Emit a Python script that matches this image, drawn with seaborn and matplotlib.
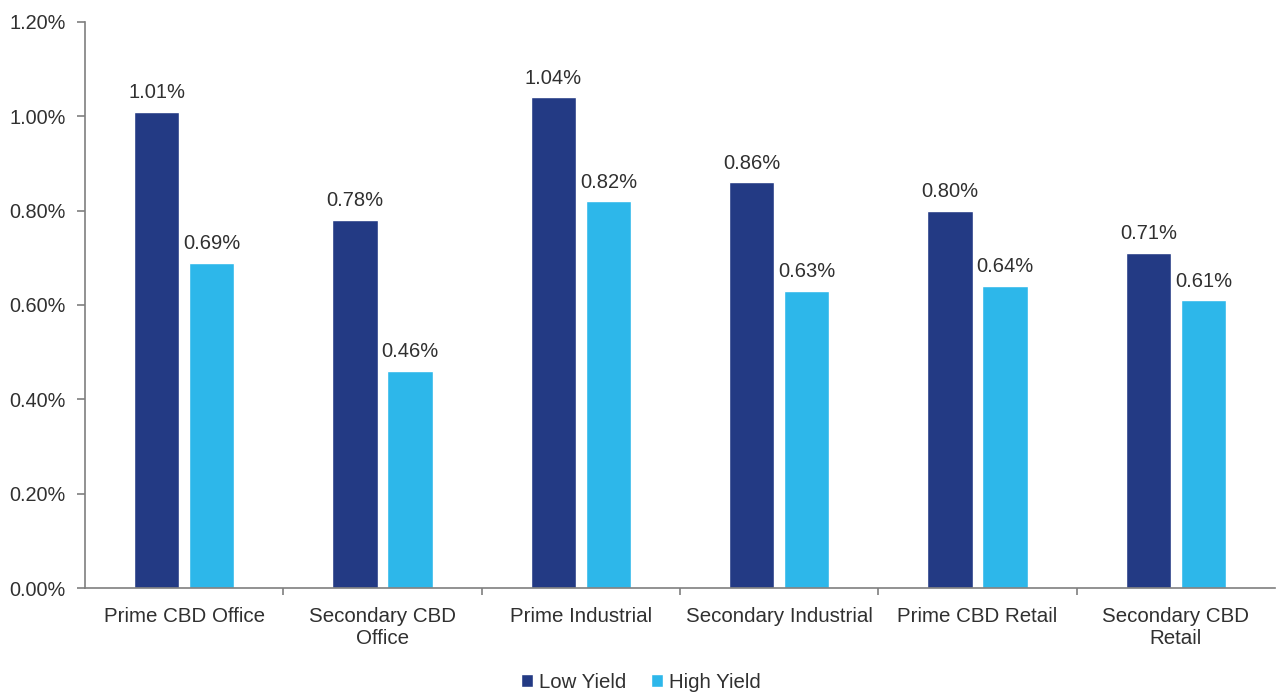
import matplotlib
matplotlib.use("Agg")
import matplotlib.pyplot as plt
import seaborn as sns
import pandas as pd
import numpy as np
from matplotlib.ticker import FuncFormatter, FixedLocator
from matplotlib.patches import Patch

categories = ["Prime CBD Office", "Secondary CBD\nOffice", "Prime Industrial",
              "Secondary Industrial", "Prime CBD Retail", "Secondary CBD\nRetail"]
low_yield = [1.01, 0.78, 1.04, 0.86, 0.80, 0.71]
high_yield = [0.69, 0.46, 0.82, 0.63, 0.64, 0.61]
series = ["Low Yield", "High Yield"]
colors = ["#233A84", "#2DB7EA"]

df = pd.DataFrame({
    "cat": categories * 2,
    "series": [series[0]] * 6 + [series[1]] * 6,
    "val": low_yield + high_yield,
})

sns.set_theme(style="white")
plt.rcParams["font.family"] = ["Liberation Sans", "DejaVu Sans"]
text_color = "#303030"

fig = plt.figure(figsize=(12.82, 6.95), dpi=100)
ax = fig.add_axes([85/1282, 1-588/695, 1190/1282, 566/695])

sns.barplot(data=df, x="cat", y="val", hue="series", order=categories,
            hue_order=series, palette=colors, width=0.556, gap=0.18,
            ax=ax, legend=False, saturation=1)

ax.set_ylim(0, 1.2)
ax.set_xlim(-0.5, len(categories) - 0.5)
ax.yaxis.set_major_locator(FixedLocator(np.arange(0, 1.21, 0.2)))
ax.yaxis.set_major_formatter(FuncFormatter(lambda v, p: f"{v:.2f}%"))
ax.set_xlabel("")
ax.set_ylabel("")

for cont in ax.containers:
    ax.bar_label(cont, labels=[f"{v:.2f}%" for v in cont.datavalues],
                 padding=7, fontsize=14.5, color=text_color)

for s in ["top", "right"]:
    ax.spines[s].set_visible(False)
for s in ["left", "bottom"]:
    ax.spines[s].set_color("#7f7f7f")
    ax.spines[s].set_linewidth(1.2)

ax.tick_params(axis="y", which="major", left=True, length=6, width=1.2,
               color="#7f7f7f", labelsize=14.3, labelcolor=text_color, pad=8)
ax.tick_params(axis="x", which="major", bottom=False, labelsize=14.8,
               labelcolor=text_color, pad=8)
ax.set_xticks(range(len(categories)))
ax.set_xticklabels(categories, linespacing=1.2)
ax.set_xticks(np.arange(0.5, len(categories) - 0.5, 1), minor=True)
ax.tick_params(axis="x", which="minor", bottom=True, length=5, width=1.2,
               color="#7f7f7f")

handles = [Patch(facecolor=c, label=l) for c, l in zip(colors, series)]
fig.legend(handles=handles, loc="center", bbox_to_anchor=(0.5, 1-682/695),
           ncol=2, frameon=False, fontsize=14.7, handlelength=0.6,
           handleheight=0.6, handletextpad=0.3, columnspacing=1.2,
           labelcolor=text_color)

fig.savefig("out.png", dpi=100)
